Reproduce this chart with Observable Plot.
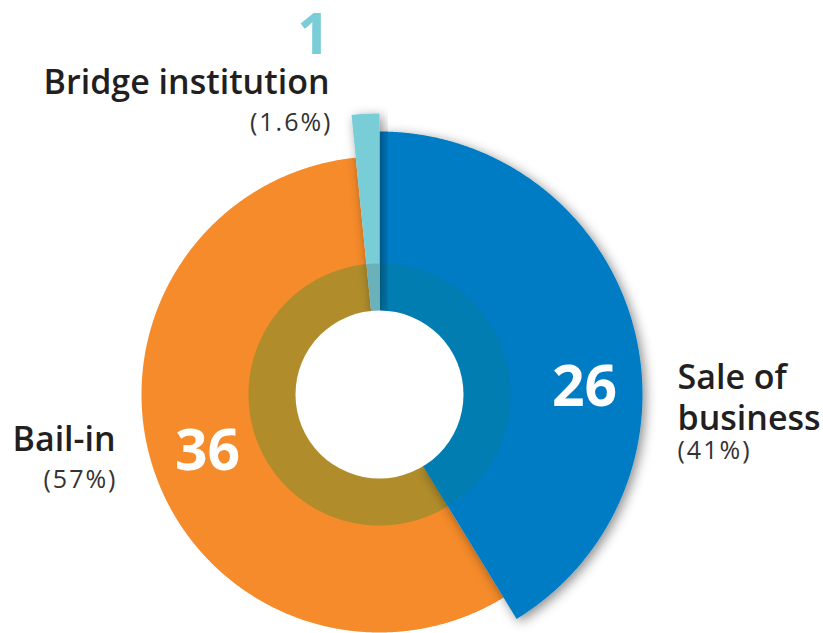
<!DOCTYPE html>
<html><head><meta charset="utf-8">
<script src="https://cdn.jsdelivr.net/npm/d3@7"></script>
<script src="https://cdn.jsdelivr.net/npm/@observablehq/plot@0.6"></script>
<style>
body{margin:0;background:#fff;}
#chart svg{display:block;font-family:"Open Sans",sans-serif;}
</style>
</head><body><div id="chart"></div>
<script>
// ---- data ----
const categories = ["Sale of business", "Bail-in", "Bridge institution"];
const counts = [26, 36, 1];
const shares = ["(41%)", "(57%)", "(1.6%)"];
const nameLines = [["Sale of", "business"], ["Bail-in"], ["Bridge institution"]];

// ---- layout / style ----
const W = 823, H = 633, cx = 379, cy = 394;
const outerR = [263, 238, 281];
const innerR = 84, ringR = 131;
const fills = ["#037CC4", "#F58B2A", "#79CDD7"];
const ringFills = ["#027DB1", "#B08C2B", "#6AB1BA"];

const arcs = d3.pie().sort(null).startAngle(0).endAngle(2 * Math.PI)(counts);

function arcPoints(a0, a1, r0, r1) {
  const n = Math.max(2, Math.ceil((a1 - a0) / 0.005));
  const pts = [];
  for (let i = 0; i <= n; i++) { const a = a0 + (a1 - a0) * i / n; pts.push({x: r1 * Math.sin(a), y: r1 * Math.cos(a)}); }
  for (let i = n; i >= 0; i--) { const a = a0 + (a1 - a0) * i / n; pts.push({x: r0 * Math.sin(a), y: r0 * Math.cos(a)}); }
  return pts;
}

const drawOrder = [1, 0, 2];
const shapeMarks = [];
for (const i of drawOrder) {
  const a = arcs[i];
  shapeMarks.push(Plot.line(arcPoints(a.startAngle, a.endAngle, innerR - 2, outerR[i]), {x: "x", y: "y", fill: fills[i], stroke: "none"}));
  shapeMarks.push(Plot.line(arcPoints(a.startAngle, a.endAngle, innerR - 2, ringR), {x: "x", y: "y", fill: ringFills[i], stroke: "none"}));
}

// label anchors (pixel positions -> centred frame)
const P = (px, py) => ({x: px - cx, y: cy - py});
const countLabels = [
  {t: String(counts[0]), ...P(584, 387), color: "#fff"},
  {t: String(counts[1]), ...P(207, 451), color: "#fff"},
  {t: String(counts[2]), ...P(313, 35), color: fills[2]}
];
const nameStart = [
  {t: nameLines[0][0], ...P(677, 378)},
  {t: nameLines[0][1], ...P(677, 419)},
  {t: nameLines[1][0], ...P(12, 440)}
];
const nameEnd = [
  {t: nameLines[2][0], ...P(329, 83)}
];
const shareStart = [{t: shares[0], ...P(677, 450)}];
const shareEnd = [
  {t: shares[1], ...P(117, 479)},
  {t: shares[2], ...P(332, 122)}
];

const chart = Plot.plot({
  width: W, height: H,
  margin: 0,
  x: {domain: [-cx, W - cx], axis: null},
  y: {domain: [cy - H, cy], axis: null},
  marks: [
    ...shapeMarks,
    Plot.dot([0], {x: () => 0, y: () => 0, r: innerR, fill: "white", stroke: "none"}),
    Plot.text(countLabels, {x: "x", y: "y", text: "t", fill: "color", fontSize: 57, fontWeight: 700, textAnchor: "middle"}),
    Plot.text(nameStart, {x: "x", y: "y", text: "t", fill: "#231F20", fontSize: 34, fontWeight: 600, textAnchor: "start"}),
    Plot.text(nameEnd, {x: "x", y: "y", text: "t", fill: "#231F20", fontSize: 34, fontWeight: 600, textAnchor: "end"}),
    Plot.text(shareStart, {x: "x", y: "y", text: "t", fill: "#333", fontSize: 25, fontWeight: 400, textAnchor: "start"}),
    Plot.text(shareEnd, {x: "x", y: "y", text: "t", fill: "#333", fontSize: 25, fontWeight: 400, textAnchor: "end"})
  ]
});

// drop shadows for the segments that stand out
const ns = "http://www.w3.org/2000/svg";
const defs = document.createElementNS(ns, "defs");
defs.innerHTML = '<filter id="shadow" x="-30%" y="-30%" width="160%" height="160%"><feDropShadow dx="3" dy="3" stdDeviation="6" flood-color="#000" flood-opacity="0.45"/></filter>';
chart.insertBefore(defs, chart.firstChild);
const groups = chart.querySelectorAll('g[aria-label="line"]');
groups[2].setAttribute("filter", "url(#shadow)");
groups[4].setAttribute("filter", "url(#shadow)");
const texts = chart.querySelectorAll('g[aria-label="text"]');
texts[3].style.letterSpacing = "2px";
texts[4].style.letterSpacing = "2px";

document.getElementById("chart").appendChild(chart);
</script>
</body></html>
